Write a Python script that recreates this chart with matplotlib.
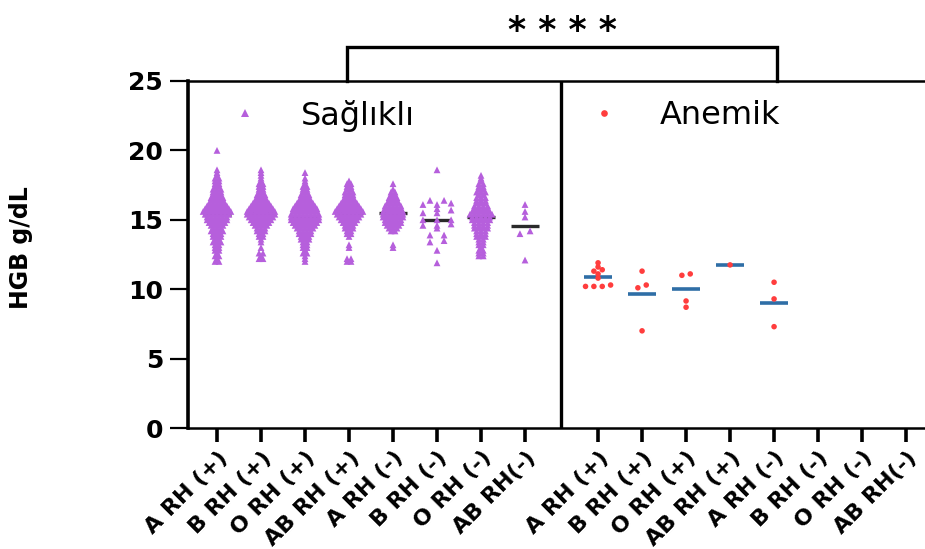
import numpy as np
import matplotlib
matplotlib.use("Agg")
import matplotlib.pyplot as plt
from matplotlib.lines import Line2D

plt.rcParams['font.family'] = ['DejaVu Sans']

groups = ["A RH (+)", "B RH (+)", "O RH (+)", "AB RH (+)",
          "A RH (-)", "B RH (-)", "O RH (-)", "AB RH(-)"]

# Sağlıklı (healthy) HGB, dense groups read as level -> number of points
a_pos_lvl = [12.0, 12.2, 12.4, 12.6, 12.8, 13.0, 13.2, 13.4, 13.6, 13.8, 14.0, 14.2,
             14.4, 14.6, 14.8, 15.0, 15.2, 15.4, 15.6, 15.8, 16.0, 16.2, 16.4, 16.6,
             16.8, 17.0, 17.2, 17.4, 17.6, 17.8, 18.0, 18.2, 18.4, 18.6, 20.0]
a_pos_cnt = [2, 1, 2, 1, 2, 2, 2, 3, 2, 3, 3, 4, 3, 4, 5, 6, 6, 7, 8, 7, 6, 5, 4, 4,
             3, 3, 3, 2, 2, 2, 2, 1, 1, 1, 1]
b_pos_lvl = [12.2, 12.4, 12.6, 13.0, 13.4, 13.6, 13.8, 14.0, 14.2, 14.4, 14.6, 14.8,
             15.0, 15.2, 15.4, 15.6, 15.8, 16.0, 16.2, 16.4, 16.6, 16.8, 17.0, 17.2,
             17.4, 17.6, 17.8, 18.0, 18.2, 18.4, 18.6]
b_pos_cnt = [2, 1, 2, 1, 1, 1, 2, 2, 3, 3, 4, 5, 6, 7, 8, 8, 7, 6, 5, 4, 3, 3, 2, 2,
             2, 2, 1, 1, 1, 1, 1]
o_pos_lvl = [12.0, 12.2, 12.4, 12.6, 12.8, 13.0, 13.2, 13.4, 13.6, 13.8, 14.0, 14.2,
             14.4, 14.6, 14.8, 15.0, 15.2, 15.4, 15.6, 15.8, 16.0, 16.2, 16.4, 16.6,
             16.8, 17.0, 17.2, 17.4, 17.6, 17.8, 18.0, 18.4]
o_pos_cnt = [1, 1, 1, 2, 1, 2, 2, 2, 3, 3, 4, 4, 5, 6, 7, 8, 8, 8, 7, 7, 6, 5, 4, 3,
             3, 2, 2, 2, 1, 1, 1, 1]
ab_pos_lvl = [12.0, 12.2, 13.0, 13.2, 13.8, 14.0, 14.2, 14.4, 14.6, 14.8, 15.0, 15.2,
              15.4, 15.6, 15.8, 16.0, 16.2, 16.4, 16.6, 16.8, 17.0, 17.2, 17.4, 17.6, 17.8]
ab_pos_cnt = [2, 2, 1, 1, 1, 2, 2, 3, 3, 4, 5, 6, 7, 8, 7, 6, 5, 4, 3, 3, 3, 2, 2, 2, 1]
a_neg_lvl = [13.0, 13.2, 14.2, 14.4, 14.6, 14.8, 15.0, 15.2, 15.4, 15.6, 15.8, 16.0,
             16.2, 16.4, 16.6, 16.8, 17.0, 17.2, 17.6]
a_neg_cnt = [1, 1, 2, 3, 4, 5, 5, 6, 6, 6, 5, 5, 4, 3, 3, 2, 2, 1, 1]
o_neg_lvl = [12.4, 12.6, 12.8, 13.0, 13.2, 13.4, 13.6, 13.8, 14.0, 14.2, 14.4, 14.6,
             14.8, 15.0, 15.2, 15.4, 15.6, 15.8, 16.0, 16.2, 16.4, 16.6, 16.8, 17.0,
             17.2, 17.4, 17.6, 17.8, 18.0, 18.2]
o_neg_cnt = [2, 2, 2, 1, 2, 2, 2, 3, 3, 3, 4, 4, 4, 5, 5, 6, 5, 4, 4, 3, 3, 3, 2, 3,
             2, 2, 2, 1, 1, 1]
# sparse healthy groups, single values
b_neg = [18.6, 16.4, 16.4, 16.2, 16.1, 16.1, 15.8, 15.7, 15.5, 15.5, 15.0, 15.0, 15.0,
         14.7, 14.6, 14.6, 14.4, 13.9, 13.9, 13.5, 13.4, 12.8, 11.9]
ab_neg = [16.1, 15.6, 15.2, 14.2, 14.0, 12.1]

# Anemik (anemic) HGB
an_a_pos = [11.9, 11.6, 11.4, 11.3, 11.1, 10.8, 10.3, 10.2, 10.2, 10.2]
an_b_pos = [11.3, 10.3, 10.1, 7.0]
an_o_pos = [11.1, 11.0, 9.15, 8.7]
an_ab_pos = [11.75]
an_a_neg = [10.5, 9.3, 7.3]
an_b_neg = []
an_o_neg = []
an_ab_neg = []

healthy = [np.repeat(a_pos_lvl, a_pos_cnt), np.repeat(b_pos_lvl, b_pos_cnt),
           np.repeat(o_pos_lvl, o_pos_cnt), np.repeat(ab_pos_lvl, ab_pos_cnt),
           np.repeat(a_neg_lvl, a_neg_cnt), np.array(b_neg),
           np.repeat(o_neg_lvl, o_neg_cnt), np.array(ab_neg)]
healthy_dx = [0.09, 0.09, 0.09, 0.09, 0.09, 0.32, 0.1, 0.23]
anemic = [an_a_pos, an_b_pos, an_o_pos, an_ab_pos, an_a_neg, an_b_neg, an_o_neg, an_ab_neg]

PURPLE = "#b65fdc"
RED = "#ff3d3d"
BLUE = "#2f6ea6"


def swarm(vals, row_h, dx):
    vals = np.sort(np.asarray(vals, float))
    rows = np.round(vals / row_h)
    offs = np.zeros(len(vals))
    for r in np.unique(rows):
        idx = np.where(rows == r)[0]
        offs[idx] = (np.arange(len(idx)) - (len(idx) - 1) / 2) * dx
    return vals, offs


fig = plt.figure(figsize=(9.25, 5.49), dpi=100)
ax = fig.add_axes([0.2032, 0.2204, 0.7968, 0.6321])

left_x = np.arange(8)
right_x = np.arange(8) + 8.66
divider = 7.82

for x, vals, dx in zip(left_x, healthy, healthy_dx):
    rh = 0.2 if dx < 0.2 else 0.3
    v, off = swarm(vals, rh, dx)
    ax.plot([x - 0.32, x + 0.32], [v.mean()] * 2, color="#2a2a2a", lw=2.4,
            solid_capstyle='butt', zorder=2)
    ax.scatter(x + off, v, marker='^', s=24, color=PURPLE, edgecolors='none', zorder=3)

for x, vals in zip(right_x, anemic):
    if len(vals) == 0:
        continue
    v, off = swarm(vals, 0.3, 0.19)
    ax.plot([x - 0.31, x + 0.31], [v.mean()] * 2, color=BLUE, lw=2.6,
            solid_capstyle='butt', zorder=2)
    ax.scatter(x + off, v, marker='o', s=16, color=RED, edgecolors='none', zorder=3)

ax.axvline(divider, color='black', lw=2.4, zorder=4)

ax.set_xlim(-0.66, 16.09)
ax.set_ylim(0, 25)
ax.set_yticks([0, 5, 10, 15, 20, 25])
ax.set_xticks(np.concatenate([left_x, right_x]))
ax.set_xticklabels(groups + groups, rotation=45, ha='right', va='top',
                   rotation_mode='anchor', fontsize=16, fontweight='bold')
for lab in ax.get_yticklabels():
    lab.set_fontweight('bold')
ax.tick_params(axis='y', length=13, width=1.6, pad=5, labelsize=18)
ax.tick_params(axis='x', length=10, width=2.6, pad=4)

ax.spines['right'].set_visible(False)
ax.spines['left'].set_linewidth(2.6)
ax.spines['bottom'].set_linewidth(1.8)
ax.spines['top'].set_linewidth(1.8)

ax.set_ylabel("HGB g/dL", fontsize=17, fontweight='bold')
ax.yaxis.set_label_coords(-0.21, 0.52)

# legends inside each panel
h1 = Line2D([], [], marker='^', ls='none', color=PURPLE, markersize=5.5, markeredgewidth=0)
h2 = Line2D([], [], marker='o', ls='none', color=RED, markersize=4.8, markeredgewidth=0)
leg1 = ax.legend([h1], ["Sağlıklı"], loc='center left', bbox_to_anchor=(0.27, 22.5),
                 bbox_transform=ax.transData, frameon=False, fontsize=23,
                 handlelength=1, handletextpad=1.25, borderpad=0, borderaxespad=0)
ax.add_artist(leg1)
ax.legend([h2], ["Anemik"], loc='center left', bbox_to_anchor=(8.43, 22.5),
          bbox_transform=ax.transData, frameon=False, fontsize=23,
          handlelength=1, handletextpad=1.25, borderpad=0, borderaxespad=0)

# significance bracket between the two panels
ax.plot([2.95, 2.95, 12.73, 12.73], [25, 27.45, 27.45, 25], color='black', lw=2.4,
        clip_on=False, solid_joinstyle='miter')
ax.text(7.86, 28.6, "* * * *", ha='center', va='center', fontsize=25,
        fontweight='bold', clip_on=False)

fig.savefig("out.png", dpi=100)
